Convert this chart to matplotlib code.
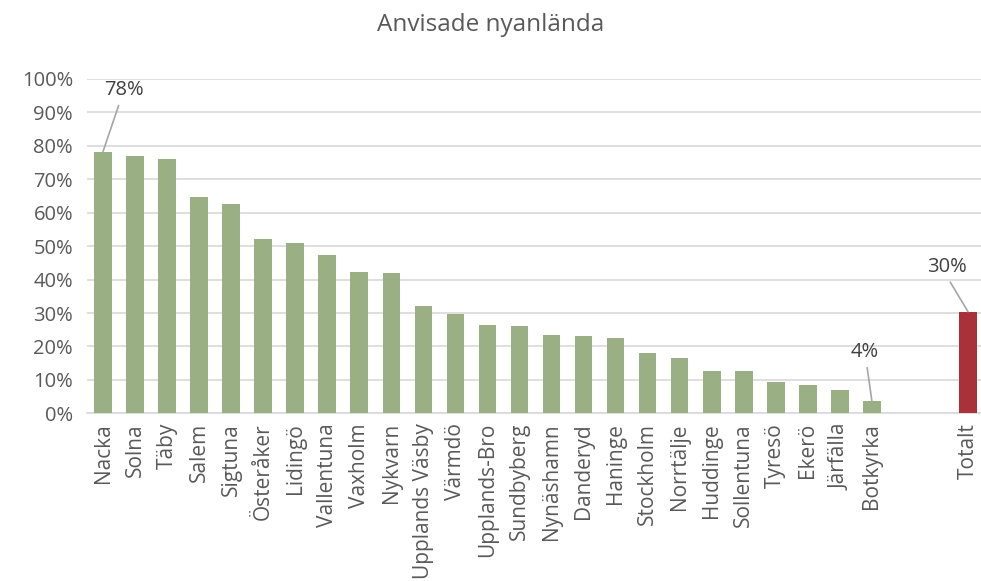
import numpy as np
import matplotlib.pyplot as plt
from matplotlib.ticker import PercentFormatter

# Kommuner, andel anvisade nyanlända (%)
kommuner = ['Nacka', 'Solna', 'Täby', 'Salem', 'Sigtuna', 'Österåker', 'Lidingö',
            'Vallentuna', 'Vaxholm', 'Nykvarn', 'Upplands Väsby', 'Värmdö',
            'Upplands-Bro', 'Sundbyberg', 'Nynäshamn', 'Danderyd', 'Haninge',
            'Stockholm', 'Norrtälje', 'Huddinge', 'Sollentuna', 'Tyresö', 'Ekerö',
            'Järfälla', 'Botkyrka']
andel = [78.3, 77.0, 76.0, 64.6, 62.7, 52.1, 50.8, 47.4, 42.2, 42.1, 32.1, 29.7,
         26.3, 26.1, 23.4, 23.2, 22.6, 18.0, 16.5, 12.8, 12.6, 9.3, 8.4, 6.9, 3.7]
totalt_label = 'Totalt'
totalt = 30.4

green = '#9AAF83'
red = '#A9323A'
text_col = '#595959'
grid_col = '#D9D9D9'

plt.rcParams['font.family'] = ['Open Sans', 'DejaVu Sans']

fig = plt.figure(figsize=(9.81, 5.81), dpi=100)
ax = fig.add_axes([87 / 981, 1 - 413.3 / 581, (984 - 87) / 981, (413.3 - 79) / 581])

x = np.arange(len(kommuner))
x_tot = len(kommuner) + 2  # två tomma platser före Totalt
ax.bar(x, andel, width=0.55, color=green, zorder=3)
ax.bar([x_tot], [totalt], width=0.55, color=red, zorder=3)

ax.set_xlim(-0.5, x_tot + 0.5)
ax.set_ylim(0, 100)
ax.set_yticks(np.arange(0, 101, 10))
ax.yaxis.set_major_formatter(PercentFormatter(decimals=0))
ax.set_xticks(list(x) + [x_tot])
ax.set_xticklabels(kommuner + [totalt_label], rotation=90)
ax.tick_params(length=0, colors=text_col, pad=7)
ax.tick_params(axis='x', labelsize=15)
ax.tick_params(axis='y', labelsize=14.5, pad=10)
for lab in ax.get_xticklabels() + ax.get_yticklabels():
    lab.set_color(text_col)

ax.grid(axis='y', color=grid_col, linewidth=1.2, zorder=0)
for s in ['top', 'right', 'left']:
    ax.spines[s].set_visible(False)
ax.spines['bottom'].set_color(grid_col)
ax.spines['bottom'].set_linewidth(1.2)

fig.text(0.5, 1 - 25 / 581, 'Anvisade nyanlända', ha='center', va='center',
         fontsize=17.5, color=text_col)

# Etiketter med hänvisningslinjer
arrow = dict(arrowstyle='-', color='#A6A6A6', lw=1.2, shrinkA=2, shrinkB=0)
ax.annotate(f'{andel[0]:.0f}%', xy=(x[0], andel[0]), xytext=(15, 37),
            textcoords='offset points', ha='center', va='bottom', fontsize=14.5,
            color='#404040', arrowprops=arrow)
ax.annotate(f'{andel[-1]:.0f}%', xy=(x[-1], andel[-1]), xytext=(-5, 28),
            textcoords='offset points', ha='center', va='bottom', fontsize=14.5,
            color='#404040', arrowprops=arrow)
ax.annotate(f'{totalt:.0f}%', xy=(x_tot, totalt), xytext=(-15, 25),
            textcoords='offset points', ha='center', va='bottom', fontsize=14.5,
            color='#404040', arrowprops=dict(arrow, relpos=(0.5, 0)))

fig.savefig('out.png', dpi=100)
